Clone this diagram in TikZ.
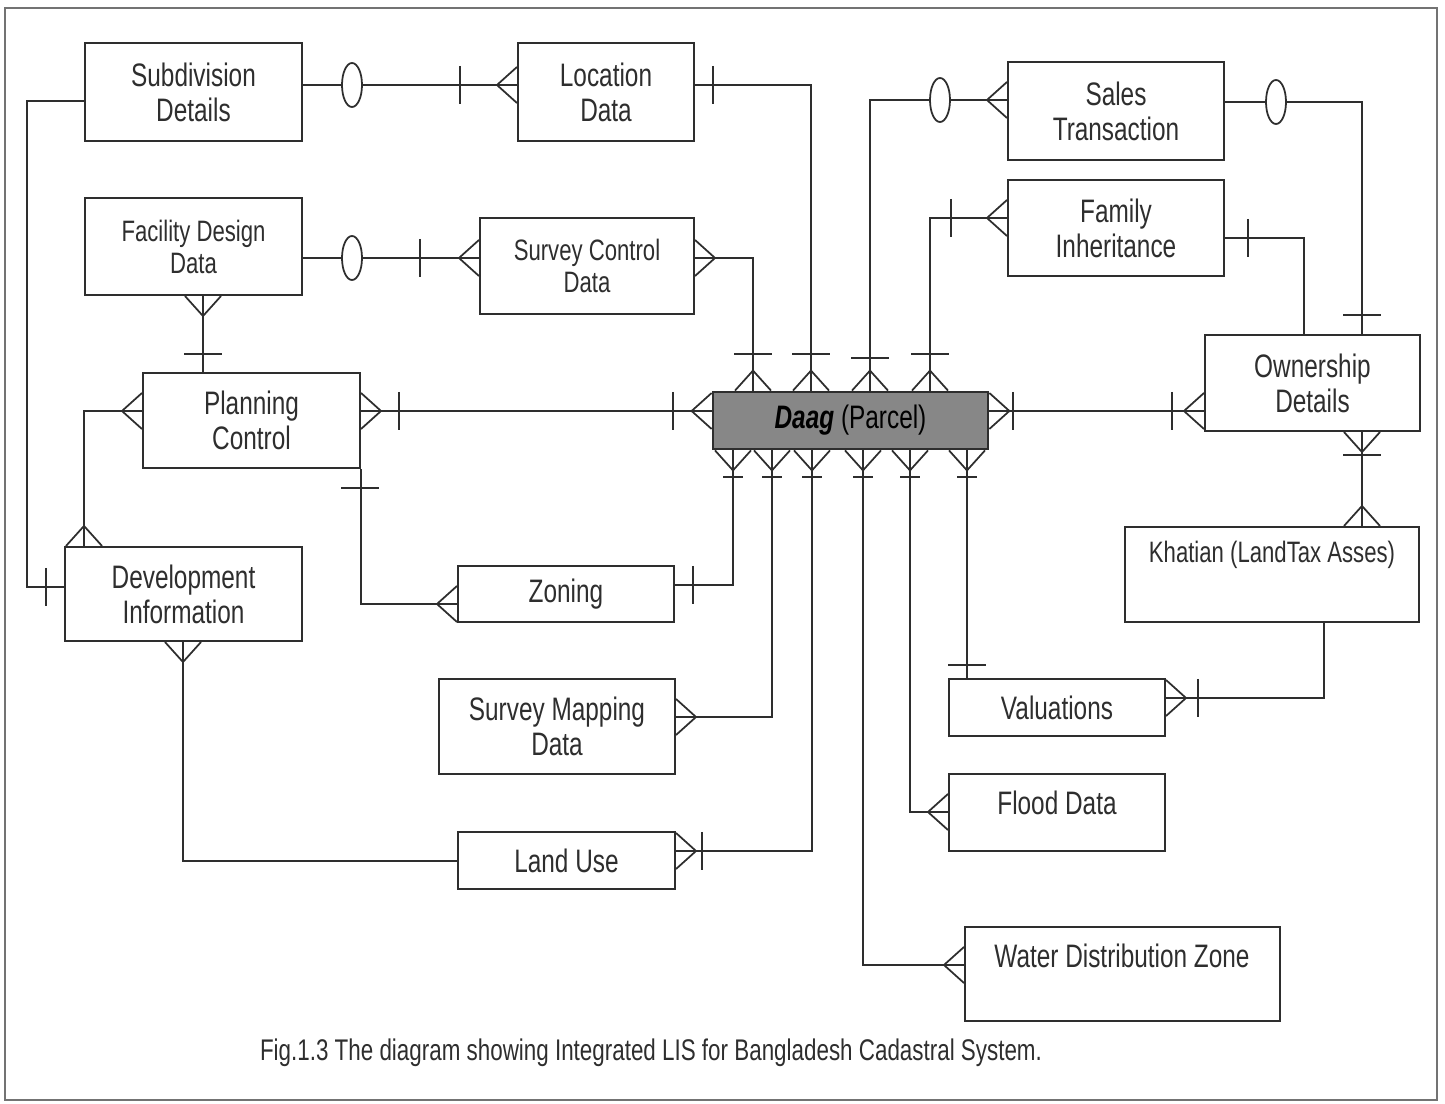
\documentclass[tikz,border=0pt]{standalone}
\usepackage{fontspec}
\setmainfont{Liberation Sans}
\newfontfamily\erfont{Liberation Sans}[FakeStretch=0.75]

\definecolor{inkgray}{gray}{0.18}
\definecolor{parcelgray}{gray}{0.53}

\tikzset{
  entity/.style={draw=inkgray, line width=1.2pt, fill=white, align=center, inner sep=0pt,
    text=inkgray, font=\erfont\fontsize{18.5}{20}\selectfont},
  smalltext/.style={font=\erfont\fontsize{16.8}{18.2}\selectfont},
  link/.style={draw=inkgray, line width=1pt},
  crowfoot/.pic={\draw[link] (0,-18) -- (20,0) -- (0,18);},
  onebar/.pic={\draw[link] (0,-19) -- (0,19);},
  shortbar/.pic={\draw[link] (0,-10) -- (0,10);},
  zerooval/.pic={\draw[link, fill=white] (0,0) ellipse [x radius=10, y radius=22];},
}

\begin{document}
\begin{tikzpicture}[x=0.02cm, y=-0.02cm]
\useasboundingbox (0,0) rectangle (1445,1104);
\draw[black!55, line width=0.7pt] (5,8) rectangle (1437,1100);

% entities
\node[entity, minimum width=4.34cm, minimum height=1.96cm] (subdiv) at (193.5,92) {Subdivision\\Details};
\node[entity, minimum width=3.52cm, minimum height=1.96cm] (locdata) at (606,92) {Location\\Data};
\node[entity, smalltext, minimum width=4.34cm, minimum height=1.94cm] (facility) at (193.5,246.5) {Facility Design\\Data};
\node[entity, smalltext, minimum width=4.28cm, minimum height=1.92cm] (survctrl) at (587,266) {Survey Control\\Data};
\node[entity, minimum width=4.34cm, minimum height=1.9cm] (planning) at (251.5,420.5) {Planning\\Control};
\node[entity, minimum width=4.74cm, minimum height=1.88cm] (devinfo) at (183.5,594) {Development\\Information};
\node[entity, minimum width=4.32cm, minimum height=1.12cm] (zoning) at (566,594) {Zoning};
\node[entity, minimum width=4.72cm, minimum height=1.9cm] (survmap) at (557,726.5) {Survey Mapping\\Data};
\node[entity, minimum width=4.34cm, minimum height=1.14cm] (landuse) at (566.5,860.5) {Land Use};
\node[entity, fill=parcelgray, line width=1.6pt, text=black, minimum width=5.5cm, minimum height=1.14cm] (daag) at (850.5,420.5) {\textbf{\textit{Daag}} (Parcel)};
\node[entity, minimum width=4.32cm, minimum height=1.96cm] (sales) at (1116,111) {Sales\\Transaction};
\node[entity, minimum width=4.32cm, minimum height=1.92cm] (family) at (1116,228) {Family\\Inheritance};
\node[entity, minimum width=4.3cm, minimum height=1.92cm] (owner) at (1312.5,383) {Ownership\\Details};
\node[entity, minimum width=5.88cm, minimum height=1.9cm] (khatian) at (1272,574.5) {};
\node[entity, minimum width=4.32cm, minimum height=1.14cm] (valuation) at (1057,707.5) {Valuations};
\node[entity, minimum width=4.32cm, minimum height=1.54cm] (flood) at (1057,812.5) {};
\node[entity, minimum width=6.3cm, minimum height=1.88cm] (water) at (1122.5,974) {};
\node[entity, smalltext, draw=none, fill=none] (khatiantxt) at (1272,555) {Khatian (LandTax Asses)};
\node[entity, draw=none, fill=none] (floodtxt) at (1057,803) {Flood Data};
\node[entity, draw=none, fill=none] (watertxt) at (1122,956) {Water Distribution Zone};

% relationships, left part
\draw[link] (subdiv.east |- 0,85) -- (locdata.west |- 0,85);
\draw[link] (locdata.east |- 0,85) -| (daag.north -| 811,0);
\draw[link] (facility.east |- 0,258) -- (survctrl.west |- 0,258);
\draw[link] (survctrl.east |- 0,258) -| (daag.north -| 753,0);
\draw[link] (facility.south -| 203,0) -- (planning.north -| 203,0);
\draw[link] (planning.east |- 0,411) -- (daag.west |- 0,411);
\draw[link] (planning.west |- 0,411) -| (devinfo.north -| 84,0);
\draw[link] (subdiv.west |- 0,101) -- (27,101) |- (devinfo.west |- 0,587);
\draw[link] (planning.south east) |- (zoning.west |- 0,604);
\draw[link] (zoning.east |- 0,585) -| (daag.south -| 733,0);
\draw[link] (survmap.east |- 0,717) -| (daag.south -| 772,0);
\draw[link] (landuse.east |- 0,851) -| (daag.south -| 812,0);
\draw[link] (devinfo.south -| 183,0) |- (landuse.west |- 0,861);

% relationships, right part
\draw[link] (daag.south -| 863,0) |- (water.west |- 0,965);
\draw[link] (daag.south -| 910,0) |- (flood.west |- 0,812);
\draw[link] (daag.south -| 967,0) -- (valuation.north -| 967,0);
\draw[link] (valuation.east |- 0,698) -| (khatian.south -| 1324,0);
\draw[link] (daag.east |- 0,411) -- (owner.west |- 0,411);
\draw[link] (owner.south -| 1362,0) -- (khatian.north -| 1362,0);
\draw[link] (sales.west |- 0,100) -| (daag.north -| 870,0);
\draw[link] (family.west |- 0,218) -| (daag.north -| 930,0);
\draw[link] (sales.east |- 0,102) -| (owner.north -| 1362,0);
\draw[link] (family.east |- 0,238) -| (owner.north -| 1304,0);

% cardinality marks
\foreach \x/\y in {753/354,811/354,870/358,930/354} {
  \pic[rotate=90] at (daag.north -| \x,0) {crowfoot};
  \pic[rotate=90] at (\x,\y) {onebar};
}
\foreach \x in {733,772,812,863,910,967} {
  \pic[rotate=-90] at (daag.south -| \x,0) {crowfoot};
  \pic[rotate=90] at (\x,477) {shortbar};
}
\pic at (352,85) {zerooval};
\pic at (460,85) {onebar};
\pic[rotate=180] at (locdata.west |- 0,85) {crowfoot};
\pic at (713,85) {onebar};
\pic at (352,258) {zerooval};
\pic at (420,258) {onebar};
\pic[rotate=180] at (survctrl.west |- 0,258) {crowfoot};
\pic at (survctrl.east |- 0,258) {crowfoot};
\pic[rotate=-90] at (facility.south -| 203,0) {crowfoot};
\pic[rotate=90] at (203,354) {onebar};
\pic at (planning.east |- 0,411) {crowfoot};
\pic at (399,411) {onebar};
\pic at (673,411) {onebar};
\pic[rotate=180] at (daag.west |- 0,411) {crowfoot};
\pic[rotate=180] at (planning.west |- 0,411) {crowfoot};
\pic[rotate=90] at (devinfo.north -| 84,0) {crowfoot};
\pic at (46,587) {onebar};
\pic[rotate=90] at (360,488) {onebar};
\pic[rotate=180] at (zoning.west |- 0,604) {crowfoot};
\pic at (693,585) {onebar};
\pic at (survmap.east |- 0,717) {crowfoot};
\pic at (landuse.east |- 0,851) {crowfoot};
\pic at (702,851) {onebar};
\pic[rotate=-90] at (devinfo.south -| 183,0) {crowfoot};
\pic[rotate=180] at (water.west |- 0,965) {crowfoot};
\pic[rotate=180] at (flood.west |- 0,812) {crowfoot};
\pic[rotate=90] at (967,665) {onebar};
\pic at (valuation.east |- 0,698) {crowfoot};
\pic at (1198,698) {onebar};
\pic at (daag.east |- 0,411) {crowfoot};
\pic at (1013,411) {onebar};
\pic at (1172,411) {onebar};
\pic[rotate=180] at (owner.west |- 0,411) {crowfoot};
\pic[rotate=-90] at (owner.south -| 1362,0) {crowfoot};
\pic[rotate=90] at (1362,455) {onebar};
\pic[rotate=90] at (khatian.north -| 1362,0) {crowfoot};
\pic[rotate=180] at (sales.west |- 0,100) {crowfoot};
\pic at (940,100) {zerooval};
\pic[rotate=180] at (family.west |- 0,218) {crowfoot};
\pic at (951,218) {onebar};
\pic at (1276,102) {zerooval};
\pic[rotate=90] at (1362,315) {onebar};
\pic at (1248,238) {onebar};

\node[text=inkgray, font=\erfont\fontsize{17}{18}\selectfont] (caption) at (651,1053)
  {Fig.1.3 The diagram showing Integrated LIS for Bangladesh Cadastral System.};
\end{tikzpicture}
\end{document}
